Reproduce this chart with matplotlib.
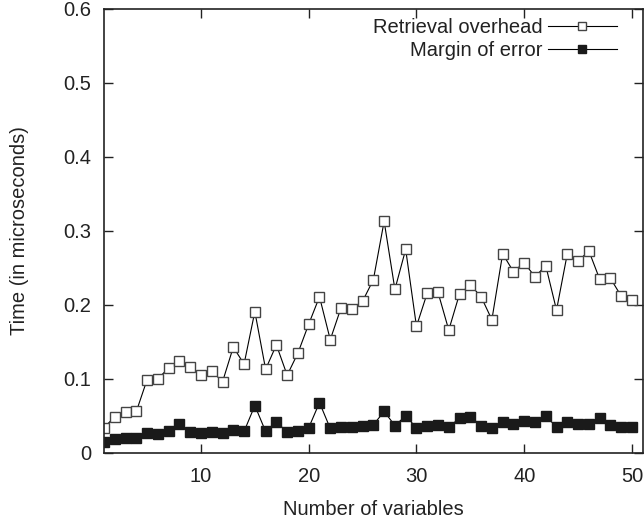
import matplotlib
matplotlib.use("Agg")
import matplotlib.pyplot as plt

plt.rcParams['font.family'] = ['Liberation Sans', 'DejaVu Sans']

num_vars = list(range(1, 51))
retrieval = [0.034, 0.049, 0.055, 0.056, 0.099, 0.100, 0.115, 0.124, 0.116, 0.105,
             0.111, 0.096, 0.143, 0.120, 0.191, 0.113, 0.146, 0.105, 0.135, 0.174,
             0.211, 0.153, 0.196, 0.195, 0.205, 0.234, 0.313, 0.221, 0.275, 0.171,
             0.216, 0.217, 0.166, 0.215, 0.227, 0.211, 0.180, 0.269, 0.245, 0.257,
             0.238, 0.253, 0.193, 0.269, 0.259, 0.273, 0.235, 0.236, 0.212, 0.207]
margin = [0.015, 0.019, 0.020, 0.020, 0.027, 0.026, 0.029, 0.039, 0.028, 0.027,
          0.028, 0.027, 0.031, 0.029, 0.064, 0.029, 0.042, 0.028, 0.030, 0.034,
          0.068, 0.033, 0.035, 0.035, 0.036, 0.038, 0.056, 0.037, 0.050, 0.034,
          0.036, 0.038, 0.035, 0.047, 0.049, 0.037, 0.034, 0.042, 0.039, 0.043,
          0.042, 0.050, 0.035, 0.042, 0.039, 0.039, 0.047, 0.038, 0.035, 0.035]

fs = 14.5
fig = plt.figure(figsize=(6.44, 5.2), dpi=100)
ax = fig.add_axes([0.1615, 0.129, 0.8365, 0.854])

ax.plot(num_vars, retrieval, color='black', lw=0.8, marker='s', ms=7.5,
        mfc='white', mec='#444444', mew=1.0, label='Retrieval overhead')
ax.plot(num_vars, margin, color='black', lw=0.8, marker='s', ms=7.5,
        mfc='#1a1a1a', mec='#1a1a1a', label='Margin of error')

ax.set_xlim(1, 51)
ax.set_ylim(0, 0.6)
ax.set_xticks([10, 20, 30, 40, 50])
ax.set_yticks([0, 0.1, 0.2, 0.3, 0.4, 0.5, 0.6])
ax.set_yticklabels(['0', '0.1', '0.2', '0.3', '0.4', '0.5', '0.6'])
ax.tick_params(direction='in', length=6.5, width=1.0, top=True, right=True,
               labelsize=fs, colors='#222222')
ax.tick_params(axis='x', pad=10)
ax.tick_params(axis='y', pad=9)
for s in ax.spines.values():
    s.set_linewidth(1.2)
    s.set_color('#222222')

ax.set_xlabel('Number of variables', fontsize=fs, color='#222222', labelpad=10)
ax.set_ylabel('Time (in microseconds)', fontsize=fs, color='#222222', labelpad=25)

leg = ax.legend(loc='upper right', bbox_to_anchor=(0.985, 1.02), frameon=False,
                markerfirst=False, fontsize=fs, handlelength=3.4,
                labelspacing=0.2, markerscale=0.8, handletextpad=0.25)
for t in leg.get_texts():
    t.set_color('#222222')

fig.savefig('out.png', dpi=100)
